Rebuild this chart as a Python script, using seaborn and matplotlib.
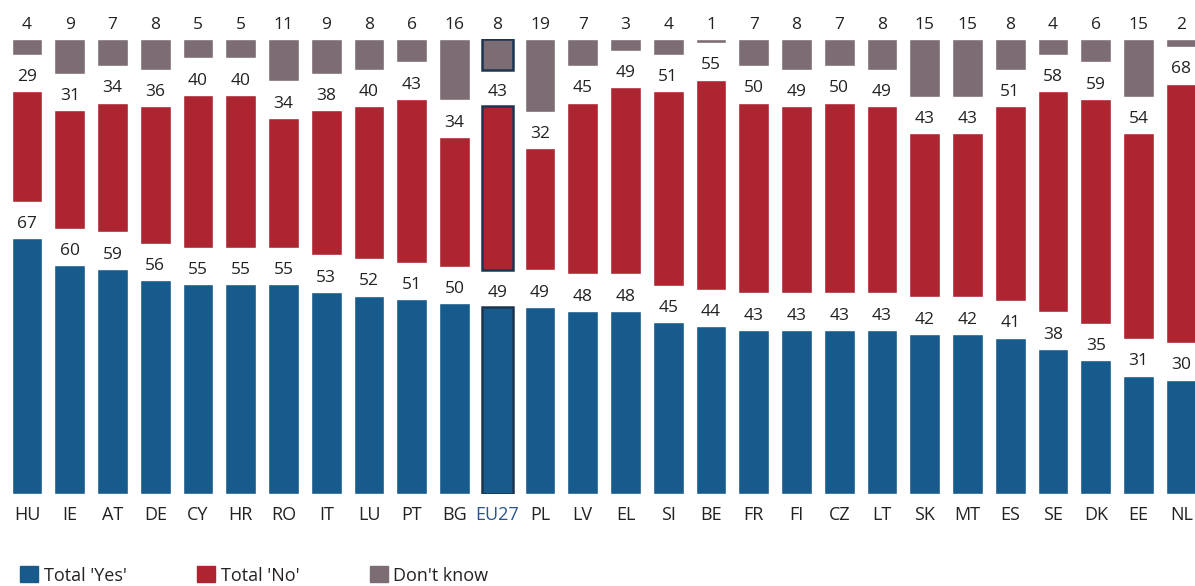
import numpy as np
import pandas as pd
import matplotlib
matplotlib.use("Agg")
import matplotlib.pyplot as plt
from matplotlib.patches import Patch
import seaborn as sns

# Values
countries = ["HU", "IE", "AT", "DE", "CY", "HR", "RO", "IT", "LU", "PT", "BG", "EU27", "PL", "LV",
             "EL", "SI", "BE", "FR", "FI", "CZ", "LT", "SK", "MT", "ES", "SE", "DK", "EE", "NL"]
yes = [67, 60, 59, 56, 55, 55, 55, 53, 52, 51, 50, 49, 49, 48,
       48, 45, 44, 43, 43, 43, 43, 42, 42, 41, 38, 35, 31, 30]
no = [29, 31, 34, 36, 40, 40, 34, 38, 40, 43, 34, 43, 32, 45,
      49, 51, 55, 50, 49, 50, 49, 43, 43, 51, 58, 59, 54, 68]
dont_know = [4, 9, 7, 8, 5, 5, 11, 9, 8, 6, 16, 8, 19, 7,
             3, 4, 1, 7, 8, 7, 8, 15, 15, 8, 4, 6, 15, 2]
legend_labels = ["Total 'Yes'", "Total 'No'", "Don't know"]

BLUE = "#175a8c"
RED = "#ae2532"
GREY = "#7c6c74"
EDGE = "#1c3550"
GAP = 9.6  # blank space between the three blocks, in % units
TOP = 100 + 2 * GAP

df = pd.DataFrame({"country": countries, "yes": yes, "no": no, "dk": dont_know})
df["no_bottom"] = df["yes"] + GAP
df["dk_bottom"] = TOP - df["dk"]

sns.set_style("white")
plt.rcParams["font.family"] = ["Liberation Sans Narrow", "Open Sans", "DejaVu Sans"]

fig = plt.figure(figsize=(11.95, 5.86), dpi=100)
ax = fig.add_axes([0, 92 / 586, 1, 454.7 / 586])

w = 0.715
sns.barplot(data=df, x="country", y="yes", color=BLUE, saturation=1, width=w, ax=ax)
sns.barplot(data=df, x="country", y="no", color=RED, saturation=1, width=w, ax=ax,
            bottom=df["no_bottom"].values)
sns.barplot(data=df, x="country", y="dk", color=GREY, saturation=1, width=w, ax=ax,
            bottom=df["dk_bottom"].values)

for cont, vals in zip(ax.containers, [yes, no, dont_know]):
    ax.bar_label(cont, labels=[str(v) for v in vals], padding=4.5, fontsize=12.5, color="#222222")
    # highlight EU27
    bar = cont.patches[countries.index("EU27")]
    bar.set_edgecolor(EDGE)
    bar.set_linewidth(1.8)

ax.set_xlim(-27 / 42.75, (1195 - 27) / 42.75)
ax.set_ylim(0, TOP)
ax.set_xlabel("")
ax.set_ylabel("")
ax.set_yticks([])
ax.tick_params(axis="x", length=0, pad=9, labelsize=13, labelcolor="#222222")
for lab in ax.get_xticklabels():
    if lab.get_text() == "EU27":
        lab.set_color("#2a5592")
sns.despine(ax=ax, left=True, bottom=True)

handles = [Patch(color=c, label=l) for c, l in zip([BLUE, RED, GREY], legend_labels)]
fig.legend(handles=handles, loc="lower left", bbox_to_anchor=(0.008, -0.016), ncol=3,
           frameon=False, fontsize=13, handlelength=1.0, handleheight=1.0,
           handletextpad=0.3, columnspacing=3.9, borderpad=0.1, labelcolor="#222222")

fig.savefig("out.png", dpi=100)
